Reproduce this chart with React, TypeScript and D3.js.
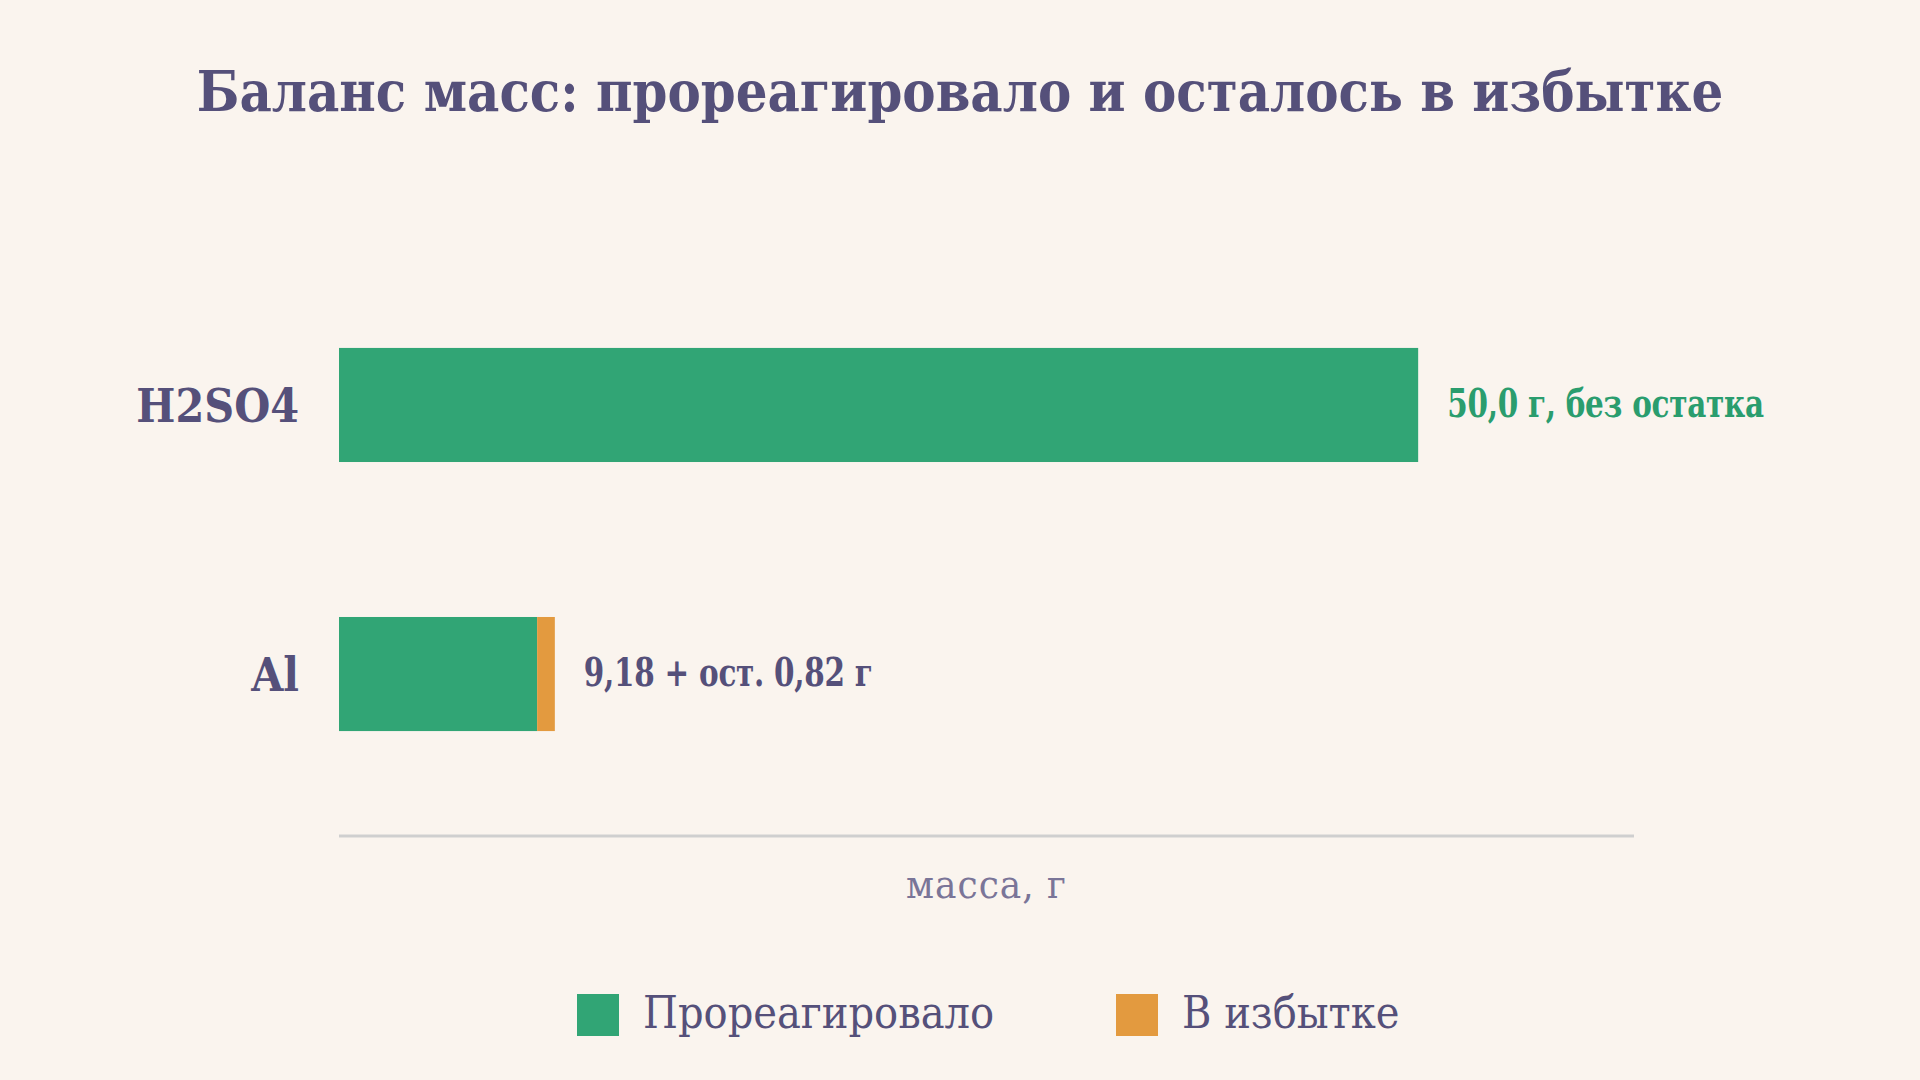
import { scaleLinear, scaleBand } from "d3";

const categories = ["H2SO4", "Al"];
const reacted = [50.0, 9.18];
const excess = [0, 0.82];
const valueLabels = ["50,0 г, без остатка", "9,18 + ост. 0,82 г"];
const labelColors = ["#2a9d6e", "#55507a"];
const legendItems = ["Прореагировало", "В избытке"];
const xDomain: [number, number] = [0, 60];

const W = 1920;
const H = 1080;
const FONT = "'DejaVu Serif', serif";
const GREEN = "#31a575";
const ORANGE = "#e39a3f";
const INK = "#55507a";

export default function App() {
  const x = scaleLinear().domain(xDomain).range([339, 1634]);
  const y = scaleBand<string>()
    .domain(categories)
    .range([243, 836])
    .paddingInner(0.576)
    .paddingOuter(0.39);
  const bh = y.bandwidth();

  return (
    <svg
      width={W}
      height={H}
      style={{ position: "absolute", left: 0, top: 0, display: "block" }}
    >
      <rect width={W} height={H} fill="#faf4ee" />
      <text
        x={960}
        y={111}
        textAnchor="middle"
        fontFamily={FONT}
        fontWeight="bold"
        fontStretch="condensed"
        fontSize={55.5}
        fill={INK}
      >
        Баланс масс: прореагировало и осталось в избытке
      </text>

      {categories.map((c, i) => {
        const y0 = y(c) ?? 0;
        const cy = y0 + bh / 2;
        const end = x(reacted[i] + excess[i]);
        return (
          <g key={c}>
            <rect x={x(0)} y={y0} width={x(reacted[i]) - x(0)} height={bh} fill={GREEN} />
            {excess[i] > 0 && (
              <rect
                x={x(reacted[i])}
                y={y0}
                width={x(reacted[i] + excess[i]) - x(reacted[i])}
                height={bh}
                fill={ORANGE}
              />
            )}
            <text
              x={299}
              y={cy}
              dy="0.36em"
              textAnchor="end"
              fontFamily={FONT}
              fontWeight="bold"
              fontStretch="condensed"
              fontSize={46}
              fill={INK}
            >
              {c}
            </text>
            {/* value labels are squeezed horizontally like the reference */}
            <text
              transform={`translate(${end + 29},${cy - 2}) scale(0.84,1)`}
              dy="0.36em"
              fontFamily={FONT}
              fontWeight="bold"
              fontStretch="condensed"
              fontSize={39}
              letterSpacing={-0.3}
              fill={labelColors[i]}
            >
              {valueLabels[i]}
            </text>
          </g>
        );
      })}

      <line x1={x(xDomain[0])} x2={x(xDomain[1])} y1={836} y2={836} stroke="#cfcfcf" strokeWidth={3} />
      <text
        x={(x(xDomain[0]) + x(xDomain[1])) / 2}
        y={898}
        textAnchor="middle"
        fontFamily={FONT}
        fontStretch="condensed"
        fontSize={40}
        letterSpacing={1}
        fill="#7a7598"
      >
        масса, г
      </text>

      {legendItems.map((label, i) => {
        const lx = [577, 1116][i];
        return (
          <g key={label} transform={`translate(${lx},994)`}>
            <rect width={42} height={42} fill={[GREEN, ORANGE][i]} />
            <text
              x={66}
              y={18}
              dy="0.36em"
              fontFamily={FONT}
              fontStretch="condensed"
              fontSize={44.5}
              fill={INK}
            >
              {label}
            </text>
          </g>
        );
      })}
    </svg>
  );
}
